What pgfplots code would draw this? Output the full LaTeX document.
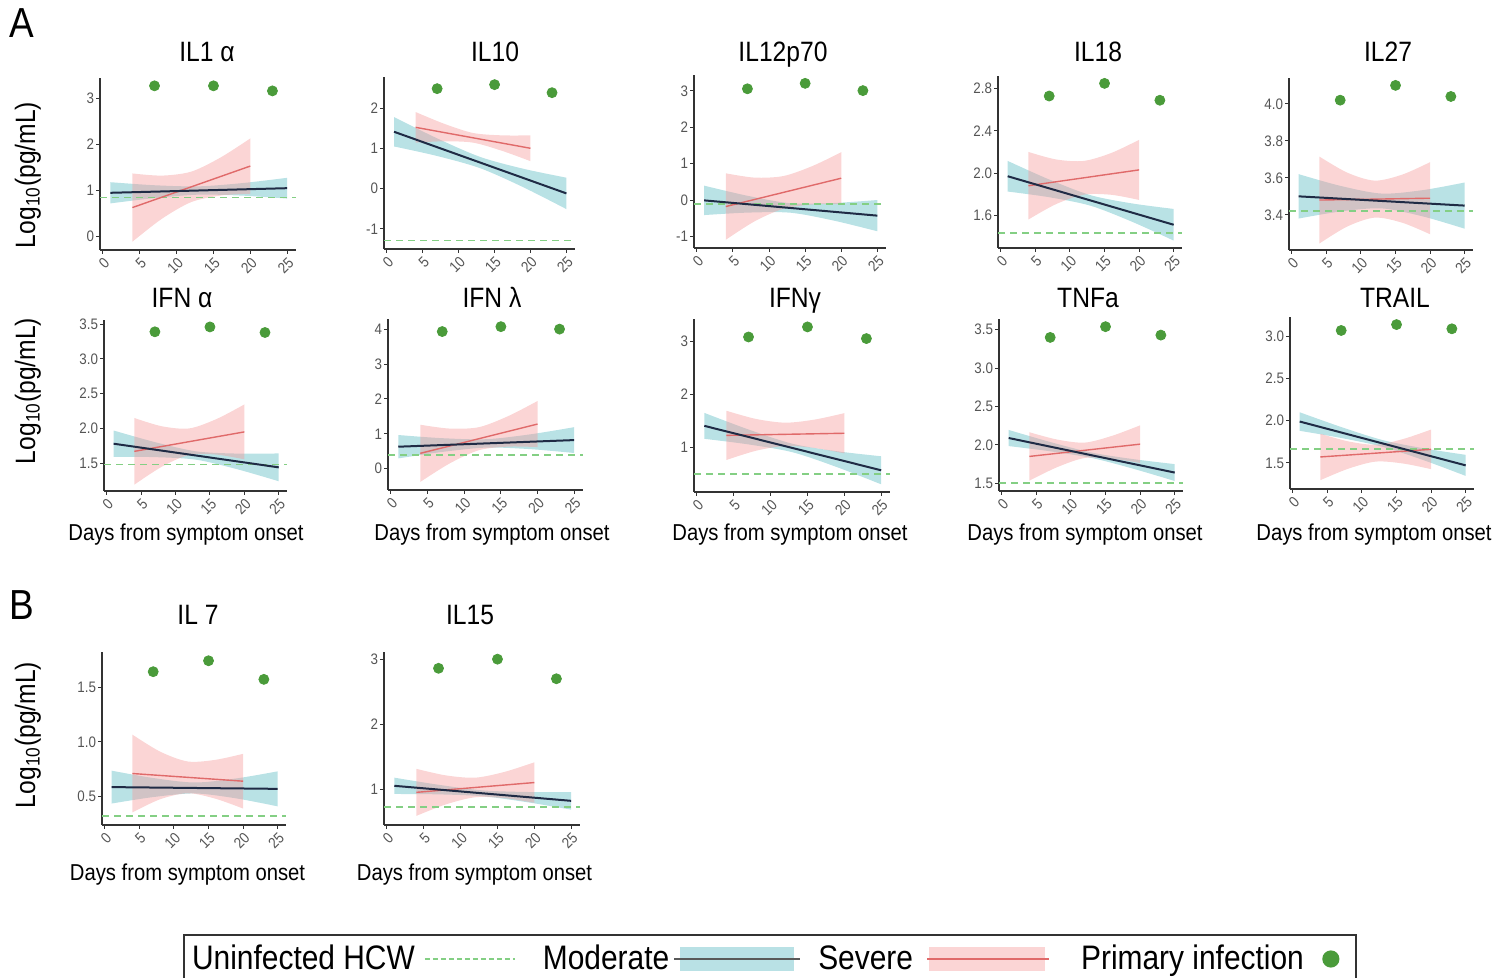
\documentclass[border=0pt]{standalone}
\usepackage{fontspec}
\setmainfont{Liberation Sans}[FakeStretch=0.88]
\usepackage{pgfplots}
\pgfplotsset{compat=1.18}
\usepgfplotslibrary{fillbetween}
\definecolor{modfill}{HTML}{64BEC6}
\definecolor{sevfill}{HTML}{F59696}
\definecolor{modcol}{HTML}{1F2B45}
\definecolor{sevcol}{HTML}{E06A6A}
\definecolor{hcwcol}{HTML}{84CF84}
\definecolor{dotcol}{HTML}{4A9B3A}
\definecolor{axcol}{HTML}{333333}
\definecolor{tickcol}{HTML}{555555}
\pgfplotsset{
 panel/.style={scale only axis, axis x line*=bottom, axis y line*=left,
  axis line style={draw=axcol, line width=0.65pt, -},
  xmin=-0.4, xmax=26.2, xtick={0,5,10,15,20,25},
  tick align=outside, major tick length=1.8pt,
  tick style={draw=axcol, line width=0.5pt},
  tick label style={font=\fontsize{7.6}{8.5}\selectfont, text=tickcol},
  xticklabel style={rotate=45, anchor=north east, inner sep=0.8pt},
  yticklabel style={inner sep=1pt},
  /pgf/number format/assume math mode=true,
  enlargelimits=false},
 dec/.style={yticklabel style={/pgf/number format/fixed, /pgf/number format/fixed zerofill, /pgf/number format/precision=1}},
 bandpath/.style={draw=none, smooth, mark=none},
 modband/.style={draw=none, fill=modfill, fill opacity=0.45},
 sevband/.style={draw=none, fill=sevfill, fill opacity=0.4},
 hcw/.style={draw=hcwcol, dash pattern=on 3.6pt off 2.4pt, line width=0.9pt, mark=none},
 modline/.style={modcol, line width=1.0pt, mark=none},
 sevline/.style={sevcol, line width=0.7pt, mark=none},
 dots/.style={only marks, mark=*, mark size=2.5pt, mark options={draw=dotcol, fill=dotcol}},
}
\newcommand{\ttl}{\fontsize{14}{16}\selectfont}
\begin{document}
\begin{tikzpicture}

% ---------- Row 1 ----------
\begin{axis}[panel, at={(50pt,364pt)}, anchor=south west, width=98pt, height=86pt,
 ymin=-0.29, ymax=3.44, ytick={0,1,2,3}]
\addplot[name path=mu, bandpath] coordinates {(1,1.18)(7,1.114)(13,1.09)(19,1.162)(25,1.275)};
\addplot[name path=ml, bandpath] coordinates {(1,0.72)(7,0.836)(13,0.91)(19,0.888)(25,0.825)};
\addplot[modband] fill between[of=mu and ml];
\addplot[name path=su, bandpath] coordinates {(4,1.37)(8,1.323)(12,1.41)(16,1.719)(20,2.13)};
\addplot[name path=sl, bandpath] coordinates {(4,-0.11)(8,0.387)(12,0.75)(16,0.891)(20,0.93)};
\addplot[sevband] fill between[of=su and sl];
\addplot[hcw] coordinates {(-0.4,0.85)(26.2,0.85)};
\addplot[sevline] coordinates {(4,0.63)(20,1.53)};
\addplot[modline] coordinates {(1,0.95)(25,1.05)};
\addplot[dots] coordinates {(7,3.27)(15,3.27)(23,3.16)};
\end{axis}

\begin{axis}[panel, at={(192pt,364.5pt)}, anchor=south west, width=95.5pt, height=86pt,
 ymin=-1.5, ymax=2.77, ytick={-1,0,1,2}]
\addplot[name path=mu, bandpath] coordinates {(1,1.775)(7,1.2465)(13,0.785)(19,0.492)(25,0.27)};
\addplot[name path=ml, bandpath] coordinates {(1,1.045)(7,0.8085)(13,0.505)(19,0.033)(25,-0.51)};
\addplot[modband] fill between[of=mu and ml];
\addplot[name path=su, bandpath] coordinates {(4,1.90)(8,1.607)(12,1.38)(16,1.321)(20,1.32)};
\addplot[name path=sl, bandpath] coordinates {(4,1.14)(8,1.173)(12,1.14)(16,0.939)(20,0.68)};
\addplot[sevband] fill between[of=su and sl];
\addplot[hcw] coordinates {(-0.4,-1.29)(26.2,-1.29)};
\addplot[sevline] coordinates {(4,1.52)(20,1.0)};
\addplot[modline] coordinates {(1,1.41)(25,-0.12)};
\addplot[dots] coordinates {(7,2.48)(15,2.58)(23,2.38)};
\end{axis}

\begin{axis}[panel, at={(347pt,365pt)}, anchor=south west, width=96pt, height=86.5pt,
 ymin=-1.32, ymax=3.44, ytick={-1,0,1,2,3}]
\addplot[name path=mu, bandpath] coordinates {(1,0.395)(7,0.117)(13,-0.09)(19,-0.082)(25,0.0)};
\addplot[name path=ml, bandpath] coordinates {(1,-0.415)(7,-0.347)(13,-0.35)(19,-0.568)(25,-0.86)};
\addplot[modband] fill between[of=mu and ml];
\addplot[name path=su, bandpath] coordinates {(4,0.735)(8,0.616)(12,0.66)(16,0.934)(20,1.315)};
\addplot[name path=sl, bandpath] coordinates {(4,-1.095)(8,-0.586)(12,-0.24)(16,-0.124)(20,-0.115)};
\addplot[sevband] fill between[of=su and sl];
\addplot[hcw] coordinates {(-0.4,-0.1)(26.2,-0.1)};
\addplot[sevline] coordinates {(4,-0.18)(20,0.6)};
\addplot[modline] coordinates {(1,-0.01)(25,-0.43)};
\addplot[dots] coordinates {(7,3.06)(15,3.21)(23,3.01)};
\end{axis}

\begin{axis}[panel, dec, at={(499pt,365pt)}, anchor=south west, width=92pt, height=86pt,
 ymin=1.29, ymax=2.92, ytick={1.6,2.0,2.4,2.8}]
\addplot[name path=mu, bandpath] coordinates {(1,2.115)(7,1.939)(13,1.79)(19,1.712)(25,1.66)};
\addplot[name path=ml, bandpath] coordinates {(1,1.825)(7,1.771)(13,1.69)(19,1.538)(25,1.36)};
\addplot[modband] fill between[of=mu and ml];
\addplot[name path=su, bandpath] coordinates {(4,2.2)(8,2.129)(12,2.115)(16,2.191)(20,2.315)};
\addplot[name path=sl, bandpath] coordinates {(4,1.56)(8,1.706)(12,1.795)(16,1.794)(20,1.745)};
\addplot[sevband] fill between[of=su and sl];
\addplot[hcw] coordinates {(-0.4,1.43)(26.2,1.43)};
\addplot[sevline] coordinates {(4,1.88)(20,2.03)};
\addplot[modline] coordinates {(1,1.97)(25,1.51)};
\addplot[dots] coordinates {(7,2.73)(15,2.85)(23,2.69)};
\end{axis}

\begin{axis}[panel, dec, at={(644.5pt,364pt)}, anchor=south west, width=92pt, height=86pt,
 ymin=3.21, ymax=4.14, ytick={3.4,3.6,3.8,4.0}]
\addplot[name path=mu, bandpath] coordinates {(1,3.62)(7,3.557)(13,3.515)(19,3.534)(25,3.575)};
\addplot[name path=ml, bandpath] coordinates {(1,3.38)(7,3.418)(13,3.435)(19,3.391)(25,3.325)};
\addplot[modband] fill between[of=mu and ml];
\addplot[name path=su, bandpath] coordinates {(4,3.715)(8,3.6285)(12,3.585)(16,3.618)(20,3.685)};
\addplot[name path=sl, bandpath] coordinates {(4,3.245)(8,3.3365)(12,3.385)(16,3.357)(20,3.295)};
\addplot[sevband] fill between[of=su and sl];
\addplot[hcw] coordinates {(-0.4,3.42)(26.2,3.42)};
\addplot[sevline] coordinates {(4,3.48)(20,3.49)};
\addplot[modline] coordinates {(1,3.5)(25,3.45)};
\addplot[dots] coordinates {(7,4.02)(15,4.10)(23,4.04)};
\end{axis}

% ---------- Row 2 ----------
\begin{axis}[panel, dec, at={(52pt,243.5pt)}, anchor=south west, width=91.5pt, height=85.5pt,
 ymin=1.10, ymax=3.56, ytick={1.5,2.0,2.5,3.0,3.5}]
\addplot[name path=mu, bandpath] coordinates {(1,1.97)(7,1.803)(13,1.67)(19,1.638)(25,1.64)};
\addplot[name path=ml, bandpath] coordinates {(1,1.59)(7,1.587)(13,1.55)(19,1.412)(25,1.24)};
\addplot[modband] fill between[of=mu and ml];
\addplot[name path=su, bandpath] coordinates {(4,2.15)(8,2.031)(12,2.0)(16,2.137)(20,2.345)};
\addplot[name path=sl, bandpath] coordinates {(4,1.19)(8,1.449)(12,1.62)(16,1.623)(20,1.555)};
\addplot[sevband] fill between[of=su and sl];
\addplot[hcw] coordinates {(-0.4,1.48)(26.2,1.48)};
\addplot[sevline] coordinates {(4,1.67)(20,1.95)};
\addplot[modline] coordinates {(1,1.78)(25,1.44)};
\addplot[dots] coordinates {(7,3.39)(15,3.46)(23,3.38)};
\end{axis}

\begin{axis}[panel, at={(194pt,244pt)}, anchor=south west, width=97.5pt, height=85.5pt,
 ymin=-0.61, ymax=4.29, ytick={0,1,2,3,4}]
\addplot[name path=mu, bandpath] coordinates {(1,0.965)(7,0.8745)(13,0.845)(19,0.9845)(25,1.19)};
\addplot[name path=ml, bandpath] coordinates {(1,0.295)(7,0.4805)(13,0.605)(19,0.5605)(25,0.45)};
\addplot[modband] fill between[of=mu and ml];
\addplot[name path=su, bandpath] coordinates {(4,1.26)(8,1.15)(12,1.19)(16,1.507)(20,1.94)};
\addplot[name path=sl, bandpath] coordinates {(4,-0.38)(8,0.15)(12,0.53)(16,0.633)(20,0.62)};
\addplot[sevband] fill between[of=su and sl];
\addplot[hcw] coordinates {(-0.4,0.39)(26.2,0.39)};
\addplot[sevline] coordinates {(4,0.44)(20,1.28)};
\addplot[modline] coordinates {(1,0.63)(25,0.82)};
\addplot[dots] coordinates {(7,3.93)(15,4.07)(23,4.0)};
\end{axis}

\begin{axis}[panel, at={(347pt,243pt)}, anchor=south west, width=98pt, height=86.5pt,
 ymin=0.16, ymax=3.43, ytick={1,2,3}]
\addplot[name path=mu, bandpath] coordinates {(1,1.655)(7,1.341)(13,1.07)(19,0.93)(25,0.835)};
\addplot[name path=ml, bandpath] coordinates {(1,1.165)(7,1.059)(13,0.91)(19,0.63)(25,0.305)};
\addplot[modband] fill between[of=mu and ml];
\addplot[name path=su, bandpath] coordinates {(4,1.695)(8,1.541)(12,1.47)(16,1.529)(20,1.65)};
\addplot[name path=sl, bandpath] coordinates {(4,0.765)(8,0.939)(12,1.03)(16,0.991)(20,0.89)};
\addplot[sevband] fill between[of=su and sl];
\addplot[hcw] coordinates {(-0.4,0.5)(26.2,0.5)};
\addplot[sevline] coordinates {(4,1.23)(20,1.27)};
\addplot[modline] coordinates {(1,1.41)(25,0.57)};
\addplot[dots] coordinates {(7,3.09)(15,3.28)(23,3.06)};
\end{axis}

\begin{axis}[panel, dec, at={(499.5pt,243.5pt)}, anchor=south west, width=92pt, height=86pt,
 ymin=1.40, ymax=3.64, ytick={1.5,2.0,2.5,3.0,3.5}]
\addplot[name path=mu, bandpath] coordinates {(1,2.195)(7,2.038)(13,1.90)(19,1.815)(25,1.75)};
\addplot[name path=ml, bandpath] coordinates {(1,1.985)(7,1.917)(13,1.83)(19,1.69)(25,1.53)};
\addplot[modband] fill between[of=mu and ml];
\addplot[name path=su, bandpath] coordinates {(4,2.165)(8,2.07)(12,2.03)(16,2.12)(20,2.255)};
\addplot[name path=sl, bandpath] coordinates {(4,1.535)(8,1.71)(12,1.83)(16,1.82)(20,1.765)};
\addplot[sevband] fill between[of=su and sl];
\addplot[hcw] coordinates {(-0.4,1.5)(26.2,1.5)};
\addplot[sevline] coordinates {(4,1.85)(20,2.01)};
\addplot[modline] coordinates {(1,2.09)(25,1.64)};
\addplot[dots] coordinates {(7,3.40)(15,3.54)(23,3.43)};
\end{axis}

\begin{axis}[panel, dec, at={(645pt,244.5pt)}, anchor=south west, width=92pt, height=86pt,
 ymin=1.19, ymax=3.23, ytick={1.5,2.0,2.5,3.0}]
\addplot[name path=mu, bandpath] coordinates {(1,2.10)(7,1.925)(13,1.77)(19,1.671)(25,1.595)};
\addplot[name path=ml, bandpath] coordinates {(1,1.88)(7,1.795)(13,1.69)(19,1.529)(25,1.345)};
\addplot[modband] fill between[of=mu and ml];
\addplot[name path=su, bandpath] coordinates {(4,1.845)(8,1.755)(12,1.715)(16,1.7835)(20,1.895)};
\addplot[name path=sl, bandpath] coordinates {(4,1.295)(8,1.43)(12,1.515)(16,1.4915)(20,1.425)};
\addplot[sevband] fill between[of=su and sl];
\addplot[hcw] coordinates {(-0.4,1.66)(26.2,1.66)};
\addplot[sevline] coordinates {(4,1.57)(20,1.66)};
\addplot[modline] coordinates {(1,1.99)(25,1.47)};
\addplot[dots] coordinates {(7,3.07)(15,3.14)(23,3.09)};
\end{axis}

% ---------- Row 3 ----------
\begin{axis}[panel, dec, at={(51pt,76.5pt)}, anchor=south west, width=92pt, height=86.5pt,
 ymin=0.24, ymax=1.82, ytick={0.5,1.0,1.5}]
\addplot[name path=mu, bandpath] coordinates {(1,0.736)(7,0.669)(13,0.628)(19,0.665)(25,0.73)};
\addplot[name path=ml, bandpath] coordinates {(1,0.436)(7,0.495)(13,0.528)(19,0.483)(25,0.41)};
\addplot[modband] fill between[of=mu and ml];
\addplot[name path=su, bandpath] coordinates {(4,1.065)(8,0.91)(12,0.82)(16,0.835)(20,0.89)};
\addplot[name path=sl, bandpath] coordinates {(4,0.355)(8,0.475)(12,0.53)(16,0.48)(20,0.39)};
\addplot[sevband] fill between[of=su and sl];
\addplot[hcw] coordinates {(-0.4,0.32)(26.2,0.32)};
\addplot[sevline] coordinates {(4,0.71)(20,0.64)};
\addplot[modline] coordinates {(1,0.586)(25,0.57)};
\addplot[dots] coordinates {(7,1.64)(15,1.74)(23,1.57)};
\end{axis}

\begin{axis}[panel, at={(192pt,76.5pt)}, anchor=south west, width=98pt, height=86.5pt,
 ymin=0.46, ymax=3.11, ytick={1,2,3}]
\addplot[name path=mu, bandpath] coordinates {(1,1.185)(7,1.076)(13,0.99)(19,0.9655)(25,0.965)};
\addplot[name path=ml, bandpath] coordinates {(1,0.935)(7,0.929)(13,0.90)(19,0.8095)(25,0.695)};
\addplot[modband] fill between[of=mu and ml];
\addplot[name path=su, bandpath] coordinates {(4,1.32)(8,1.2195)(12,1.185)(16,1.2747)(20,1.42)};
\addplot[name path=sl, bandpath] coordinates {(4,0.60)(8,0.7755)(12,0.885)(16,0.8703)(20,0.80)};
\addplot[sevband] fill between[of=su and sl];
\addplot[hcw] coordinates {(-0.4,0.73)(26.2,0.73)};
\addplot[sevline] coordinates {(4,0.96)(20,1.11)};
\addplot[modline] coordinates {(1,1.06)(25,0.83)};
\addplot[dots] coordinates {(7,2.86)(15,3.0)(23,2.70)};
\end{axis}

% ---------- Legend ----------
\begin{axis}[at={(385pt,9.5pt)}, anchor=center, hide axis, scale only axis, width=1pt, height=1pt,
 xmin=0, xmax=1, ymin=0, ymax=1,
 legend columns=4, legend plot pos=right,
 legend style={at={(0.5,0.5)}, anchor=center, draw=axcol, line width=0.7pt, fill=white,
  font=\fontsize{17}{19}\selectfont, inner xsep=2pt, inner ysep=3pt, column sep=0pt}]
\addlegendimage{legend image code/.code={\path[draw=none] (0pt,0pt) -- (60pt,0pt); \draw[hcwcol, dash pattern=on 2.5pt off 1.5pt, line width=0.8pt] (3pt,0pt) -- (48pt,0pt);}}
\addlegendentry{Uninfected HCW}
\addlegendimage{legend image code/.code={\path[draw=none] (0pt,0pt) -- (68pt,0pt); \fill[draw=none, modfill, fill opacity=0.45] (1pt,-6pt) rectangle (58pt,6pt); \draw[black!65, line width=1pt] (-2pt,0pt) -- (61pt,0pt);}}
\addlegendentry{Moderate}
\addlegendimage{legend image code/.code={\path[draw=none] (0pt,0pt) -- (80pt,0pt); \fill[draw=none, sevfill, fill opacity=0.4] (6pt,-6pt) rectangle (64pt,6pt); \draw[sevcol, line width=0.8pt] (5pt,0pt) -- (66pt,0pt);}}
\addlegendentry{Severe}
\addlegendimage{legend image code/.code={\path[draw=none] (0pt,0pt) -- (22pt,0pt); \fill[draw=none, dotcol] (11.5pt,0pt) circle (4.3pt);}}
\addlegendentry{Primary infection}
\end{axis}

% ---------- Text ----------
\node[font=\fontsize{21}{24}\selectfont, anchor=base] at (11pt,470pt) {A};
\node[font=\fontsize{21}{24}\selectfont, anchor=base] at (11pt,179pt) {B};

\node[font=\ttl, anchor=base] at (103.5pt,458pt) {IL1 α};
\node[font=\ttl, anchor=base] at (247.5pt,458pt) {IL10};
\node[font=\ttl, anchor=base] at (391.5pt,458pt) {IL12p70};
\node[font=\ttl, anchor=base] at (549pt,458pt) {IL18};
\node[font=\ttl, anchor=base] at (694pt,458pt) {IL27};
\node[font=\ttl, anchor=base] at (91pt,335pt) {IFN α};
\node[font=\ttl, anchor=base] at (246pt,335pt) {IFN λ};
\node[font=\ttl, anchor=base] at (397.5pt,335pt) {IFNγ};
\node[font=\ttl, anchor=base] at (544pt,335pt) {TNFa};
\node[font=\ttl, anchor=base] at (697.5pt,335pt) {TRAIL};
\node[font=\ttl, anchor=base] at (99pt,176.5pt) {IL 7};
\node[font=\ttl, anchor=base] at (235pt,176.5pt) {IL15};

\node[rotate=90, font=\ttl] at (14pt,401.5pt) {Log\textsubscript{10}(pg/mL)};
\node[rotate=90, font=\ttl] at (14pt,293.5pt) {Log\textsubscript{10}(pg/mL)};
\node[rotate=90, font=\ttl] at (14pt,121.5pt) {Log\textsubscript{10}(pg/mL)};

\node[font=\fontsize{11.5}{13}\selectfont] at (93pt,221.5pt) {Days from symptom onset};
\node[font=\fontsize{11.5}{13}\selectfont] at (246pt,221.5pt) {Days from symptom onset};
\node[font=\fontsize{11.5}{13}\selectfont] at (395pt,221.5pt) {Days from symptom onset};
\node[font=\fontsize{11.5}{13}\selectfont] at (542.5pt,221.5pt) {Days from symptom onset};
\node[font=\fontsize{11.5}{13}\selectfont] at (687pt,221.5pt) {Days from symptom onset};
\node[font=\fontsize{11.5}{13}\selectfont] at (93.75pt,51.5pt) {Days from symptom onset};
\node[font=\fontsize{11.5}{13}\selectfont] at (237.25pt,51.5pt) {Days from symptom onset};

\pgfresetboundingbox
\useasboundingbox (0,0) rectangle (756pt,489pt);
\end{tikzpicture}
\end{document}
